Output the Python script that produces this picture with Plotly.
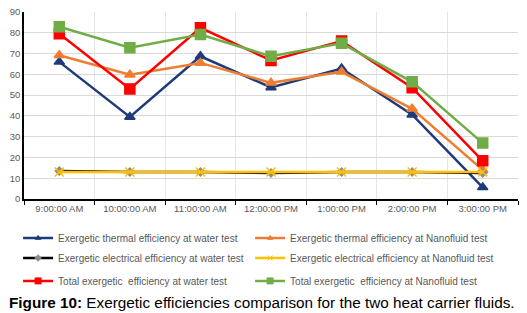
import plotly.graph_objects as go

times = ["9:00:00 AM", "10:00:00 AM", "11:00:00 AM", "12:00:00 PM", "1:00:00 PM", "2:00:00 PM", "3:00:00 PM"]
thermal_water = [66, 39.5, 68.7, 53.7, 62.8, 40.6, 5.6]
thermal_nano = [69.2, 59.8, 65.5, 55.9, 61.2, 43.4, 14]
elec_water = [13.5, 13, 13, 12.5, 13, 13, 12.5]
elec_nano = [13, 13, 13, 13, 13, 13, 13]
total_water = [79.5, 53, 82.4, 66.7, 76, 53.6, 18.4]
total_nano = [82.9, 72.8, 79.2, 68.7, 74.9, 56.4, 26.9]

series = [
    ("Exergetic thermal efficiency at water test", thermal_water, "#1f3a7a", "triangle-up", 9, "#1f3a7a"),
    ("Exergetic thermal efficiency at Nanofluid test", thermal_nano, "#ed7d31", "triangle-up", 9, "#ed7d31"),
    ("Exergetic electrical efficiency at water test", elec_water, "#000000", "diamond", 6, "#8c8c8c"),
    ("Exergetic electrical efficiency at Nanofluid test", elec_nano, "#ffc000", "x-thin", 9, "#ffc000"),
    ("Total exergetic  efficiency at water test", total_water, "#ff0000", "square", 10, "#ff0000"),
    ("Total exergetic  efficiency at Nanofluid test", total_nano, "#70ad47", "square", 10, "#70ad47"),
]

legend_x = [-0.012, 0.4577]
legend_y = [-0.2086, -0.3155, -0.438]

fig = go.Figure()
legend_layouts = {}
for i, (name, vals, lc, sym, sz, mc) in enumerate(series):
    lg = "legend" if i == 0 else f"legend{i + 1}"
    fig.add_trace(go.Scatter(
        x=times, y=vals, name=name, mode="lines+markers", showlegend=False,
        line=dict(color=lc, width=2.5),
        marker=dict(symbol=sym, size=sz, color=mc, line=dict(color=mc, width=1.5)),
    ))
    # legend-only entry with smaller symbol, like the original
    fig.add_trace(go.Scatter(
        x=[None], y=[None], name=name, mode="lines+markers", showlegend=True, legend=lg,
        line=dict(color=lc, width=2.5),
        marker=dict(symbol=sym, size=max(5, sz - 4), color=mc, line=dict(color=mc, width=1)),
    ))
    legend_layouts[lg] = dict(
        orientation="h", x=legend_x[i % 2], xanchor="left",
        y=legend_y[i // 2], yanchor="middle",
        font=dict(size=10, color="#595959"), itemwidth=30, itemsizing="trace",
        bgcolor="rgba(0,0,0,0)",
    )

fig.update_layout(
    width=527, height=313,
    margin=dict(l=24, r=9, t=12, b=114, autoexpand=False),
    plot_bgcolor="white", paper_bgcolor="white",
    font=dict(family="Liberation Sans, Arial", color="#595959"),
    xaxis=dict(
        type="category", tickson="boundaries", ticks="outside", ticklen=4,
        tickcolor="#000000", showline=True, linecolor="#000000", linewidth=1.5,
        showgrid=True, gridcolor="#e6e6e6", gridwidth=1,
        tickfont=dict(size=9.5, color="#595959"), range=[-0.5, 6.5],
    ),
    yaxis=dict(
        range=[0, 90], dtick=10, showline=True, linecolor="#000000", linewidth=1.5,
        showgrid=True, gridcolor="#d9d9d9", gridwidth=1, zeroline=False,
        tickfont=dict(size=9.5, color="#595959"), ticks="",
    ),
    showlegend=True,
    **legend_layouts,
)

fig.add_annotation(
    text="<b>Figure 10:</b> Exergetic efficiencies comparison for the two heat carrier fluids.",
    xref="paper", yref="paper", x=0.481, xanchor="center", y=-0.556, yanchor="middle",
    showarrow=False, font=dict(size=15.3, color="#000000", family="Liberation Sans, Arial"),
)

fig.write_html("out.html", config={"displayModeBar": False},
               post_script="document.body.style.margin='0';document.body.style.padding='0';")
